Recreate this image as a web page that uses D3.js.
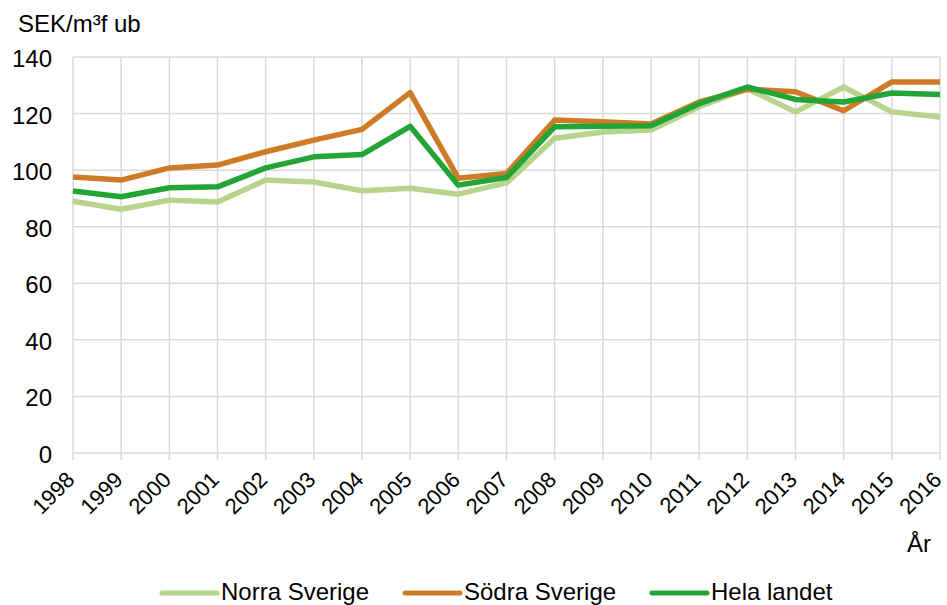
<!DOCTYPE html>
<html>
<head>
<meta charset="utf-8">
<script src="https://cdn.jsdelivr.net/npm/d3@7"></script>
<style>
  body { margin: 0; background: #fff; }
  text { font-family: "Liberation Sans", Arial, sans-serif; fill: #000; }
</style>
</head>
<body>
<script>
// years on the x axis
var years = [1998, 1999, 2000, 2001, 2002, 2003, 2004, 2005, 2006, 2007,
             2008, 2009, 2010, 2011, 2012, 2013, 2014, 2015, 2016];

// SEK/m3f ub
var norra = [89.0, 86.2, 89.4, 88.7, 96.5, 95.8, 92.7, 93.6, 91.5, 95.5,
             111.3, 113.5, 114.2, 122.4, 128.8, 120.6, 129.4, 120.6, 118.8];
var sodra = [97.6, 96.5, 100.8, 101.8, 106.5, 110.6, 114.4, 127.4, 97.1, 98.8,
             117.7, 117.1, 116.3, 124.1, 128.6, 127.7, 121.0, 131.2, 131.2];
var hela  = [92.6, 90.6, 93.8, 94.1, 100.8, 104.7, 105.5, 115.5, 94.7, 97.4,
             115.3, 115.5, 115.7, 123.5, 129.4, 125.0, 124.1, 127.3, 126.7];

var yTicks = [0, 20, 40, 60, 80, 100, 120, 140];

var series = [
    {name: "Norra Sverige", values: norra, color: "#b6d48c"},
    {name: "Södra Sverige", values: sodra, color: "#cd7b27"},
    {name: "Hela landet", values: hela, color: "#22a536"}
];

var width = 947, height = 605;
var plotLeft = 73, plotRight = 940, plotTop = 57, plotBottom = 453;

var svg = d3.select("body").append("svg")
    .attr("width", width)
    .attr("height", height);

var x = d3.scalePoint()
    .domain(years)
    .range([plotLeft, plotRight]);

var y = d3.scaleLinear()
    .domain([0, 140])
    .range([plotBottom, plotTop]);

//horizontal gridlines
svg.selectAll(".hgrid")
    .data(yTicks)
    .enter()
    .append("line")
    .attr("class", "hgrid")
    .attr("x1", plotLeft)
    .attr("x2", plotRight)
    .attr("y1", function(d) { return y(d); })
    .attr("y2", function(d) { return y(d); })
    .style("stroke", "#d9d9d9")
    .style("stroke-width", 1.5);

//vertical gridlines, running a bit below the axis like tick marks
svg.selectAll(".vgrid")
    .data(years)
    .enter()
    .append("line")
    .attr("class", "vgrid")
    .attr("x1", function(d) { return x(d); })
    .attr("x2", function(d) { return x(d); })
    .attr("y1", plotTop)
    .attr("y2", plotBottom + 7)
    .style("stroke", "#d9d9d9")
    .style("stroke-width", 1.5);

//y tick labels
svg.selectAll(".ylab")
    .data(yTicks)
    .enter()
    .append("text")
    .attr("class", "ylab")
    .attr("x", 52)
    .attr("y", function(d) { return y(d) + 10; })
    .attr("text-anchor", "end")
    .style("font-size", "24px")
    .text(function(d) { return d; });

//x tick labels, rotated
svg.selectAll(".xlab")
    .data(years)
    .enter()
    .append("text")
    .attr("class", "xlab")
    .attr("text-anchor", "end")
    .attr("transform", function(d) {
        return "translate(" + (x(d) + 3) + "," + (plotBottom + 28) + ") rotate(-45)";
    })
    .style("font-size", "22px")
    .text(function(d) { return d; });

//axis titles
svg.append("text")
    .attr("x", 18)
    .attr("y", 32)
    .style("font-size", "24px")
    .text("SEK/m³f ub");

svg.append("text")
    .attr("x", 919)
    .attr("y", 552)
    .attr("text-anchor", "middle")
    .style("font-size", "24px")
    .text("År");

//lines
var line = d3.line()
    .x(function(d, i) { return x(years[i]); })
    .y(function(d) { return y(d); });

svg.selectAll(".series")
    .data(series)
    .enter()
    .append("path")
    .attr("class", "series")
    .attr("d", function(d) { return line(d.values); })
    .style("fill", "none")
    .style("stroke", function(d) { return d.color; })
    .style("stroke-width", 5.5)
    .style("stroke-linejoin", "round");

//legend
var legendX = [162, 405, 652];
var legend = svg.selectAll(".legend")
    .data(series)
    .enter()
    .append("g")
    .attr("class", "legend")
    .attr("transform", function(d, i) { return "translate(" + legendX[i] + ",593)"; });

legend.append("line")
    .attr("x1", 0)
    .attr("x2", 55)
    .attr("y1", 0)
    .attr("y2", 0)
    .style("stroke", function(d) { return d.color; })
    .style("stroke-width", 5)
    .style("stroke-linecap", "round");

legend.append("text")
    .attr("x", 59)
    .attr("y", 7)
    .style("font-size", "24px")
    .text(function(d) { return d.name; });
</script>
</body>
</html>
